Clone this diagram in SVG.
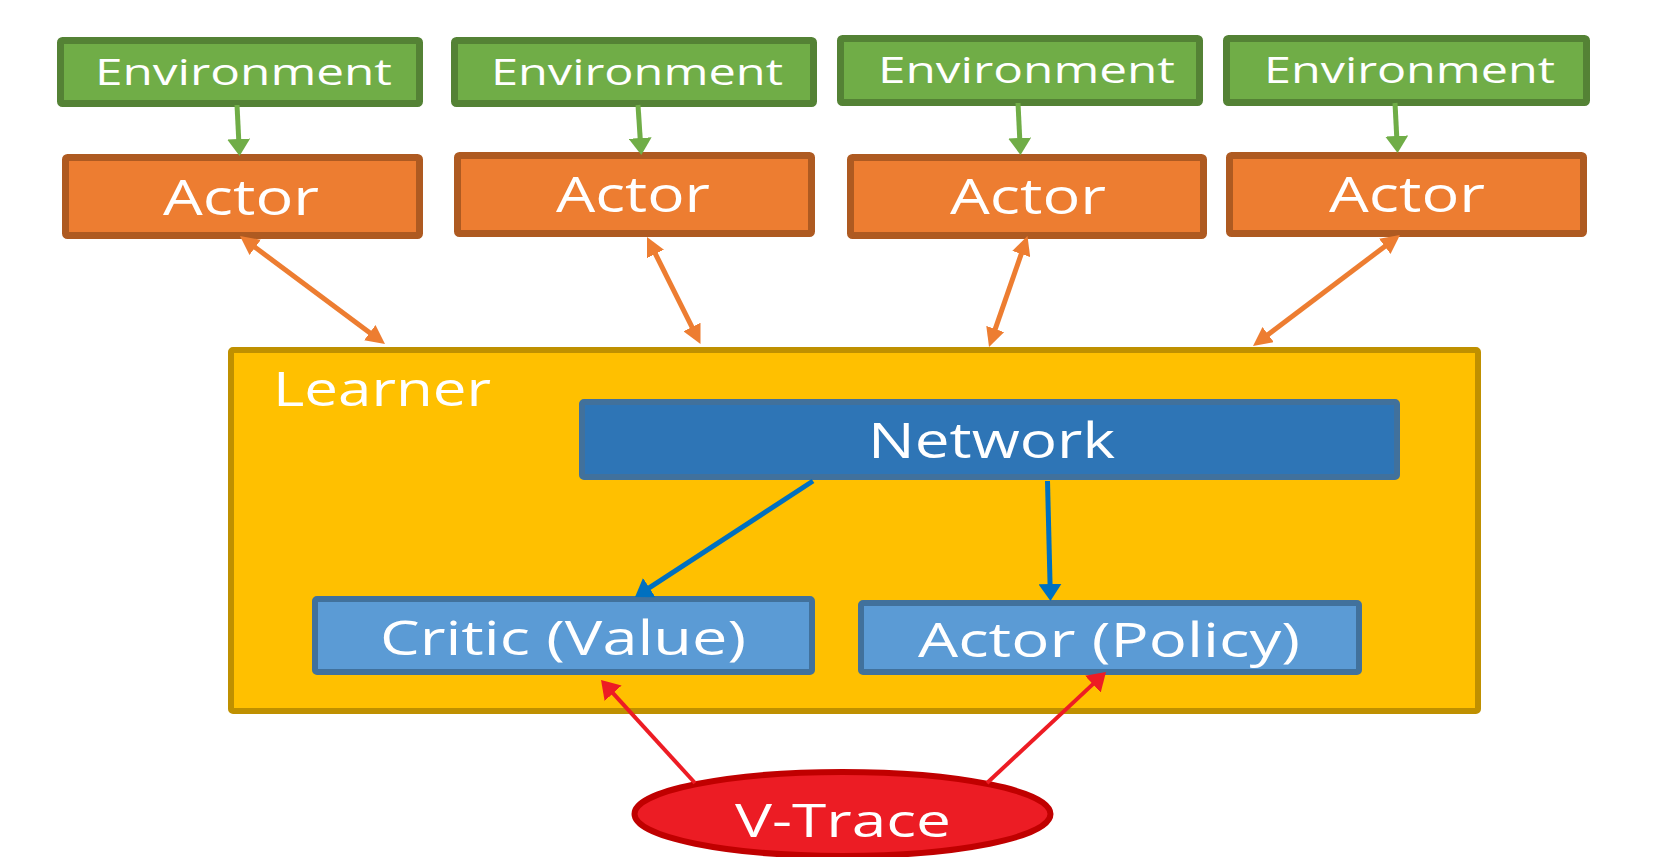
<svg xmlns="http://www.w3.org/2000/svg" width="1676" height="857" viewBox="0 0 1676 857">
<style>
.env{fill:#70AD47;stroke:#548235;stroke-width:7}
.act{fill:#ED7D31;stroke:#AE5A21;stroke-width:7}
.lrn{fill:#FFC000;stroke:#BF9000;stroke-width:6}
.net{fill:#2E75B6;stroke:#41719C;stroke-width:6}
.sub{fill:#5B9BD5;stroke:#41719C;stroke-width:6}
.vt{fill:#EC1C24;stroke:#C00000;stroke-width:6}
text{font-family:"Open Sans","Noto Sans",sans-serif;fill:#FFFFFF}
.g{stroke:#70AD47;stroke-width:5;fill:none}
.o{stroke:#ED7D31;stroke-width:5;fill:none}
.b{stroke:#0070C0;stroke-width:5;fill:none}
.r{stroke:#ED1C24;stroke-width:4;fill:none}
</style>
<defs>
<marker id="mg" viewBox="0 0 17 23" refX="2" refY="11.5" markerWidth="17" markerHeight="23" markerUnits="userSpaceOnUse" orient="auto"><path d="M0,0 L17,11.5 L0,23 z" fill="#70AD47"/></marker>
<marker id="mo" viewBox="0 0 19 19" refX="2" refY="9.5" markerWidth="19" markerHeight="19" markerUnits="userSpaceOnUse" orient="auto-start-reverse"><path d="M0,0 L19,9.5 L0,19 z" fill="#ED7D31"/></marker>
<marker id="mb" viewBox="0 0 17 23" refX="2" refY="11.5" markerWidth="17" markerHeight="23" markerUnits="userSpaceOnUse" orient="auto"><path d="M0,0 L17,11.5 L0,23 z" fill="#0070C0"/></marker>
<marker id="mr" viewBox="0 0 18 23" refX="2" refY="11.5" markerWidth="18" markerHeight="23" markerUnits="userSpaceOnUse" orient="auto"><path d="M0,0 L18,11.5 L0,23 z" fill="#ED1C24"/></marker>
</defs>

<g id="env1"><rect class="env" x="60.5" y="40.5" width="359" height="63" rx="2"/><text x="95" y="85" font-size="36" textLength="297" lengthAdjust="spacingAndGlyphs">Environment</text></g>
<g id="env2"><rect class="env" x="454.5" y="40.5" width="359" height="63" rx="2"/><text x="491" y="85" font-size="36" textLength="292" lengthAdjust="spacingAndGlyphs">Environment</text></g>
<g id="env3"><rect class="env" x="840.5" y="38.5" width="359" height="64" rx="2"/><text x="878" y="83" font-size="36" textLength="297" lengthAdjust="spacingAndGlyphs">Environment</text></g>
<g id="env4"><rect class="env" x="1226.5" y="38.5" width="360" height="64" rx="2"/><text x="1264" y="83" font-size="36" textLength="291" lengthAdjust="spacingAndGlyphs">Environment</text></g>

<g id="actor1"><rect class="act" x="65.5" y="157.5" width="354" height="78" rx="2"/><text x="163" y="215" font-size="49" textLength="156" lengthAdjust="spacingAndGlyphs">Actor</text></g>
<g id="actor2"><rect class="act" x="457.5" y="155.5" width="354" height="78" rx="2"/><text x="556" y="212" font-size="49" textLength="154" lengthAdjust="spacingAndGlyphs">Actor</text></g>
<g id="actor3"><rect class="act" x="850.5" y="157.5" width="353" height="78" rx="2"/><text x="950" y="214" font-size="49" textLength="156" lengthAdjust="spacingAndGlyphs">Actor</text></g>
<g id="actor4"><rect class="act" x="1229.5" y="155.5" width="354" height="78" rx="2"/><text x="1329" y="212" font-size="49" textLength="156" lengthAdjust="spacingAndGlyphs">Actor</text></g>

<g id="learner"><rect class="lrn" x="231" y="350" width="1247" height="361" rx="2"/><text x="273" y="406" font-size="47" textLength="218" lengthAdjust="spacingAndGlyphs">Learner</text></g>
<g id="network"><rect class="net" x="582" y="402" width="815" height="75" rx="2"/><text x="868" y="458" font-size="49" textLength="247" lengthAdjust="spacingAndGlyphs">Network</text></g>
<g id="critic"><rect class="sub" x="315" y="599" width="497" height="73" rx="2"/><text x="380" y="655" font-size="47" textLength="366" lengthAdjust="spacingAndGlyphs">Critic (Value)</text></g>
<g id="policy"><rect class="sub" x="861" y="603" width="498" height="69" rx="2"/><text x="918" y="657" font-size="47" textLength="382" lengthAdjust="spacingAndGlyphs">Actor (Policy)</text></g>
<g id="vtrace"><ellipse class="vt" cx="842.5" cy="814" rx="208" ry="42"/><text x="735" y="837" font-size="46" textLength="216" lengthAdjust="spacingAndGlyphs">V-Trace</text></g>

<g id="connectors">
<line class="g" x1="237" y1="105" x2="238.8" y2="141" marker-end="url(#mg)"/>
<line class="g" x1="638" y1="105" x2="640.3" y2="140" marker-end="url(#mg)"/>
<line class="g" x1="1018" y1="103" x2="1019.8" y2="140" marker-end="url(#mg)"/>
<line class="g" x1="1395" y1="103" x2="1396.8" y2="138" marker-end="url(#mg)"/>
<line class="o" x1="253.6" y1="246.2" x2="371.4" y2="333.9" marker-start="url(#mo)" marker-end="url(#mo)"/>
<line class="o" x1="654.6" y1="252.2" x2="692.9" y2="328.8" marker-start="url(#mo)" marker-end="url(#mo)"/>
<line class="o" x1="1021.9" y1="252.1" x2="994.6" y2="330.9" marker-start="url(#mo)" marker-end="url(#mo)"/>
<line class="o" x1="1386.4" y1="245.2" x2="1266.6" y2="335.8" marker-start="url(#mo)" marker-end="url(#mo)"/>
<line class="b" x1="813" y1="481" x2="647.6" y2="588.8" marker-end="url(#mb)"/>
<line class="b" x1="1047.5" y1="481" x2="1050.1" y2="586" marker-end="url(#mb)"/>
<line class="r" x1="695" y1="783" x2="611.8" y2="691.8" marker-end="url(#mr)"/>
<line class="r" x1="987" y1="783" x2="1094.3" y2="682.9" marker-end="url(#mr)"/>
</g>
</svg>
